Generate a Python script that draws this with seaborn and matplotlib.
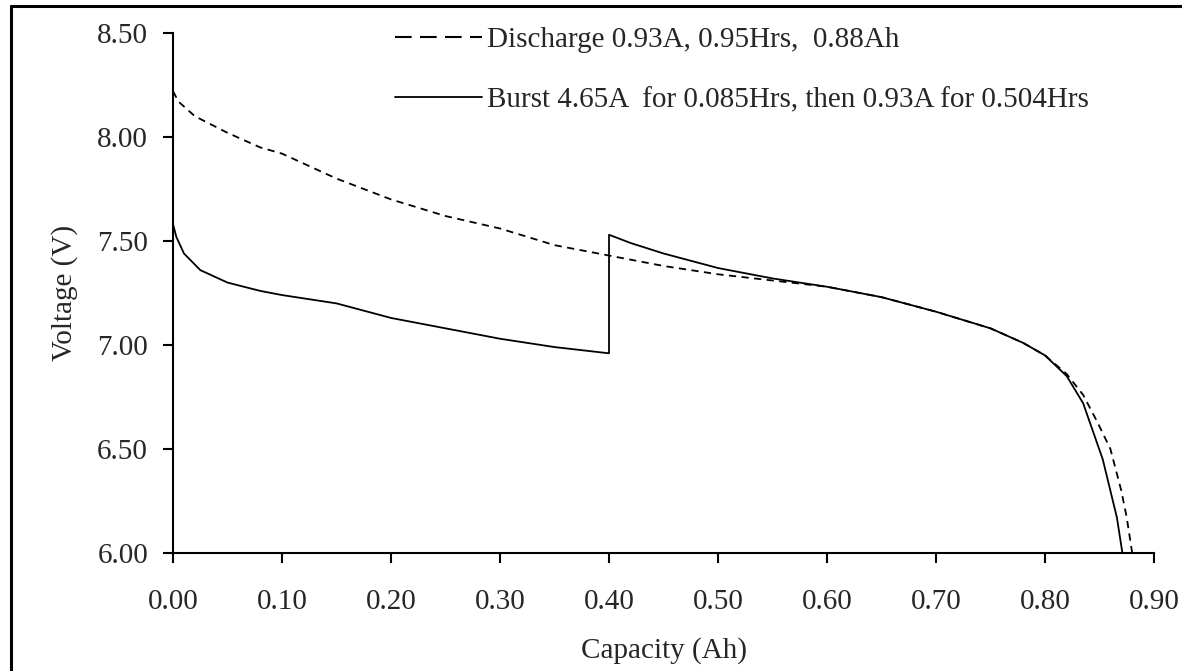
import numpy as np
import pandas as pd
import matplotlib
matplotlib.use("Agg")
import matplotlib.pyplot as plt
from matplotlib.lines import Line2D
import seaborn as sns

# Discharge curve (dashed), capacity in Ah, voltage in V
cap_discharge = [0.0, 0.005, 0.02, 0.05, 0.08, 0.10, 0.15, 0.20, 0.25, 0.30, 0.35, 0.40,
                 0.45, 0.50, 0.55, 0.60, 0.65, 0.70, 0.75, 0.78, 0.80, 0.82, 0.835,
                 0.848, 0.86, 0.87, 0.875, 0.88]
volt_discharge = [8.22, 8.17, 8.10, 8.02, 7.95, 7.92, 7.80, 7.70, 7.62, 7.56, 7.48, 7.43,
                  7.38, 7.34, 7.31, 7.28, 7.23, 7.16, 7.08, 7.01, 6.95, 6.86, 6.76,
                  6.63, 6.50, 6.30, 6.17, 6.00]

# Burst curve (solid)
cap_burst = [0.0, 0.003, 0.01, 0.025, 0.05, 0.08, 0.10, 0.15, 0.20, 0.25, 0.30, 0.35,
             0.40, 0.40, 0.42, 0.45, 0.50, 0.55, 0.60, 0.65, 0.70, 0.75, 0.78, 0.80,
             0.82, 0.835, 0.853, 0.866, 0.871]
volt_burst = [7.58, 7.52, 7.44, 7.36, 7.30, 7.26, 7.24, 7.20, 7.13, 7.08, 7.03, 6.99,
              6.96, 7.53, 7.49, 7.44, 7.37, 7.32, 7.28, 7.23, 7.16, 7.08, 7.01, 6.95,
              6.85, 6.72, 6.45, 6.17, 6.00]

labels = ["Discharge 0.93A, 0.95Hrs,  0.88Ah",
          "Burst 4.65A  for 0.085Hrs, then 0.93A for 0.504Hrs"]
x_ticks = [0.0, 0.1, 0.2, 0.3, 0.4, 0.5, 0.6, 0.7, 0.8, 0.9]
y_ticks = [6.0, 6.5, 7.0, 7.5, 8.0, 8.5]

sns.set_style("white")
plt.rcParams['font.family'] = ['Liberation Serif', 'DejaVu Serif']
fs = 21

fig = plt.figure(figsize=(11.82, 6.71), dpi=100)
ax = fig.add_axes([0.1464, 0.1759, 0.9763 - 0.1464, 0.9508 - 0.1759])

sns.lineplot(x=cap_discharge, y=volt_discharge, estimator=None, sort=False,
             color="black", lw=1.3, dashes=False, linestyle=(0, (4, 3)), ax=ax)
sns.lineplot(x=cap_burst, y=volt_burst, estimator=None, sort=False,
             color="black", lw=1.3, ax=ax)

ax.set_xlim(0, 0.9)
ax.set_ylim(6.0, 8.5)
ax.set_xticks(x_ticks)
ax.set_yticks(y_ticks)
ax.set_xticklabels([f"{v:.2f}" for v in x_ticks], fontsize=fs)
ax.set_yticklabels([f"{v:.2f}" for v in y_ticks], fontsize=fs)
ax.tick_params(axis="both", direction="out", length=7, width=1.5, color="black",
               bottom=True, left=True)
ax.tick_params(axis="y", pad=11)
ax.tick_params(axis="x", pad=19)
for s in ["top", "right"]:
    ax.spines[s].set_visible(False)
for s in ["left", "bottom"]:
    ax.spines[s].set_color("black")
    ax.spines[s].set_linewidth(1.5)

ax.set_xlabel("Capacity (Ah)", fontsize=fs, labelpad=16)
ax.set_ylabel("Voltage (V)", fontsize=fs, labelpad=14)

handles = [Line2D([], [], color="black", lw=1.5, dashes=(8, 4)),
           Line2D([], [], color="black", lw=1.3)]
fig.legend(handles, labels, loc="upper left", bbox_to_anchor=(0.334, 0.960),
           frameon=False, fontsize=fs, handlelength=3.0, handletextpad=0.17,
           labelspacing=1.16, borderpad=0, borderaxespad=0)

# partial outer border (top and left edges)
fig.add_artist(Line2D([11 / 1182, 1.0], [1 - 6 / 671, 1 - 6 / 671],
                      transform=fig.transFigure, color="black", lw=2.2))
fig.add_artist(Line2D([11 / 1182, 11 / 1182], [0.0, 1 - 6 / 671],
                      transform=fig.transFigure, color="black", lw=2.2))

fig.savefig("out.png", dpi=100)
